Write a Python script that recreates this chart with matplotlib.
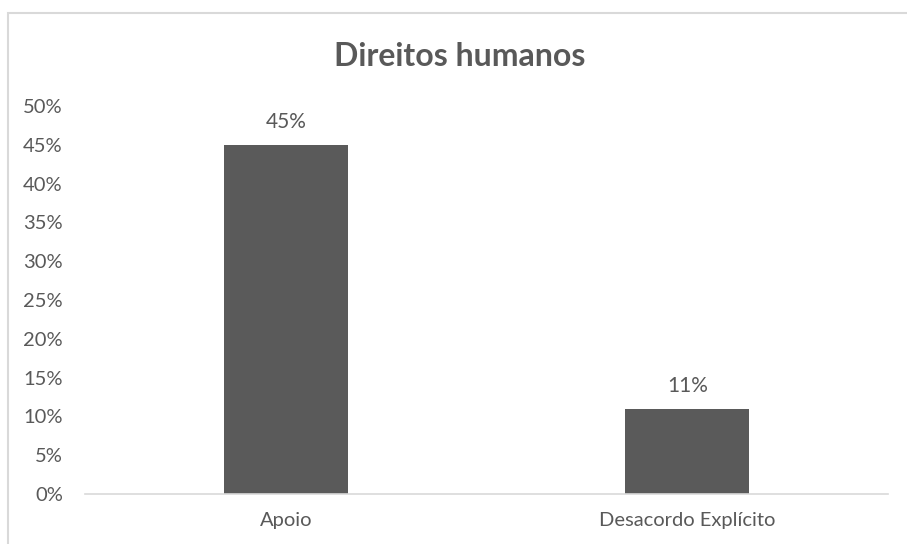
import matplotlib
matplotlib.use("Agg")
import matplotlib.pyplot as plt
from matplotlib.patches import Rectangle
from matplotlib.ticker import MultipleLocator, PercentFormatter

# dados do gráfico
categorias = ["Apoio", "Desacordo Explícito"]
valores = [0.45, 0.11]
rotulos = ["45%", "11%"]

cinza_texto = "#595959"
cinza_barra = "#5a5a5a"
cinza_linha = "#d9d9d9"

plt.rcParams["font.family"] = ["Lato", "DejaVu Sans"]

fig = plt.figure(figsize=(9.07, 5.44), dpi=100)
ax = fig.add_axes([85 / 907, 1 - 494 / 544, (888 - 85) / 907, (494 - 106) / 544])

# moldura da área do gráfico
fig.patches.append(Rectangle((8 / 907, -0.1), 2, 1 - 13 / 544 + 0.1,
                             transform=fig.transFigure, fill=False,
                             edgecolor=cinza_linha, linewidth=1.5))

x = range(len(categorias))
barras = ax.bar(x, valores, width=0.31, color=cinza_barra)
for b, r in zip(barras, rotulos):
    ax.annotate(r, (b.get_x() + b.get_width() / 2, b.get_height()),
                xytext=(0, 9), textcoords="offset points",
                ha="center", va="bottom", fontsize=15, color=cinza_texto)

ax.set_xlim(-0.5, 1.5)
ax.set_ylim(0, 0.5)
ax.yaxis.set_major_locator(MultipleLocator(0.05))
ax.yaxis.set_major_formatter(PercentFormatter(1.0, decimals=0))
ax.set_xticks(list(x))
ax.set_xticklabels(categorias)
ax.tick_params(axis="both", length=0, labelsize=14.5, colors=cinza_texto)
ax.tick_params(axis="y", pad=16)
ax.tick_params(axis="x", pad=13)

for lado in ["top", "right", "left"]:
    ax.spines[lado].set_visible(False)
ax.spines["bottom"].set_color(cinza_linha)
ax.spines["bottom"].set_linewidth(1.2)

fig.text(0.5 + 6 / 907, 1 - 56 / 544, "Direitos humanos", ha="center", va="center",
         fontsize=23, fontweight="bold", color=cinza_texto)

fig.savefig("out.png", dpi=100, facecolor="white")
